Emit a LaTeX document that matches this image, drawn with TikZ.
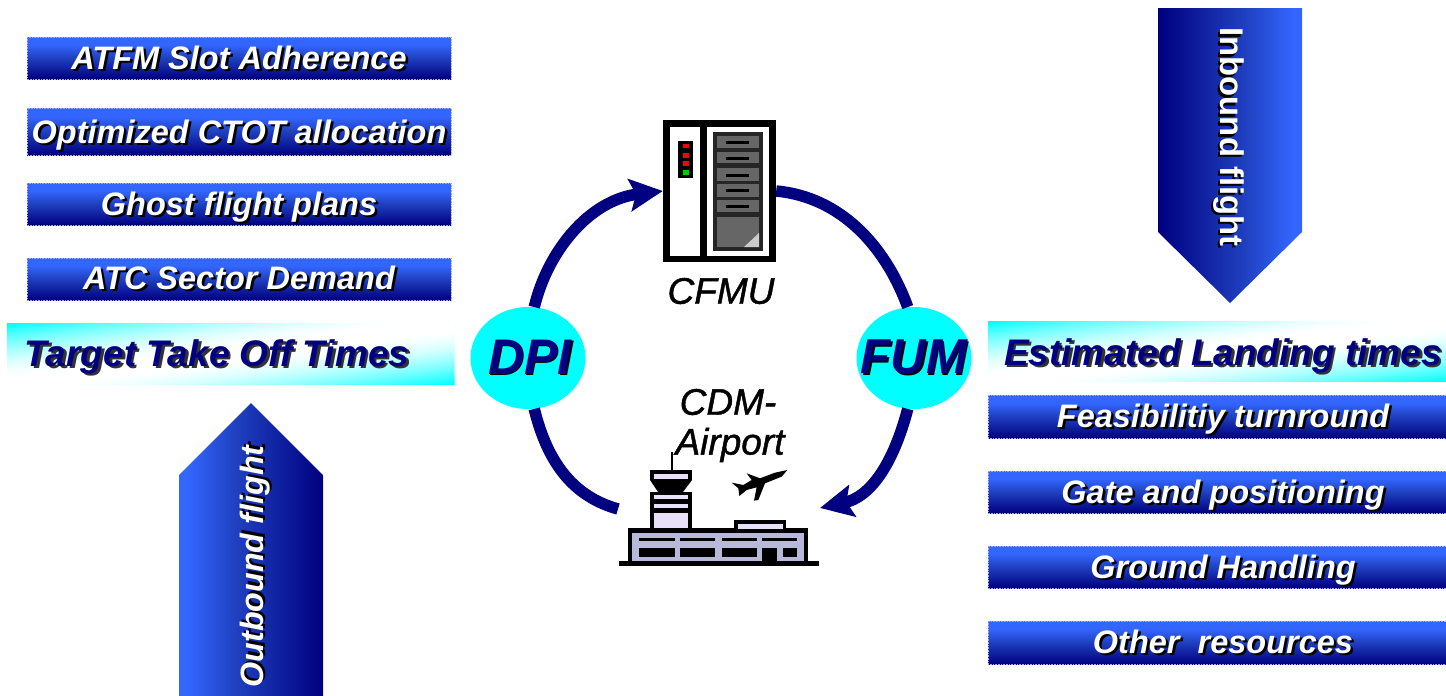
\documentclass[tikz,border=0pt]{standalone}
\usepackage{fontspec}
\setmainfont{Liberation Sans}
\usetikzlibrary{arrows.meta,shapes.geometric}
\definecolor{navyc}{HTML}{000080}
\definecolor{bluec}{HTML}{3366FF}
\definecolor{cyanc}{HTML}{00FFFF}
\definecolor{lilac}{HTML}{E8E0F8}
\definecolor{lilacd}{HTML}{B8B8D8}
\definecolor{drawer}{HTML}{666666}
\pgfdeclareverticalshading{barshade}{100bp}{rgb(0bp)=(0,0,.5); rgb(25bp)=(0,0,.5); rgb(50bp)=(.12,.25,.75); rgb(66bp)=(.2,.4,1); rgb(100bp)=(.2,.4,1)}
\pgfdeclarehorizontalshading{arrowin}{100bp}{rgb(0bp)=(0,0,.5); rgb(25bp)=(0,0,.5); rgb(55bp)=(.12,.25,.75); rgb(72bp)=(.2,.4,1); rgb(100bp)=(.2,.4,1)}
\pgfdeclarehorizontalshading{arrowout}{100bp}{rgb(0bp)=(.2,.4,1); rgb(28bp)=(.2,.4,1); rgb(45bp)=(.12,.25,.75); rgb(75bp)=(0,0,.5); rgb(100bp)=(0,0,.5)}
\newcommand{\shtext}[3]{\rlap{\hspace{2.5pt}\raisebox{-2.5pt}{\textcolor{#2}{#3}}}\textcolor{#1}{#3}}
\newcommand{\shtextb}[3]{\rlap{\hspace{1.5pt}\raisebox{-1.5pt}{\textcolor{#2}{#3}}}\textcolor{#1}{#3}}
% diagonal cyan-white-cyan fill, painted back to front
\newcommand{\bannerfill}[4]{%
  \begin{scope}
    \clip (#1,#2) rectangle (#3,#4);
    \fill[cyanc] (#1,#2) rectangle (#3,#4);
    \pgfmathsetmacro{\bw}{#3-#1}\pgfmathsetmacro{\bh}{#4-#2}
    \foreach \n in {1,...,80}{
      \pgfmathsetmacro{\u}{\n/80}
      \pgfmathsetmacro{\d}{max(0,(abs(\u-.5)-.05)/.45)}
      \pgfmathsetmacro{\p}{min(100,100*\d^1.6)}
      \fill[cyanc!\p!white] (#1+2*\u*\bw+.1*\bw,#2-.1*\bh) -- (#1+2*\u*\bw-1.1*\bw,#2+1.1*\bh) -- (#3+3*\bw,#4+\bh) -- (#3+3*\bw,#2-\bh) -- cycle;
    }
  \end{scope}}
\tikzset{
  x=1pt,y=-1pt,
  bartext/.style={font=\fontsize{#1}{#1}\selectfont\bfseries\itshape,inner sep=0pt},
  flow/.style={draw=navyc,line width=11.5pt},
  flowtip/.style={flow,-{Stealth[length=33pt,width=32pt,inset=6pt]}},
  bar/.style={shading=barshade,draw=white!65!blue,densely dotted,line width=.6pt},
  hub/.style={ellipse,fill=cyanc,inner sep=0pt,minimum width=115pt,minimum height=102pt},
  caption/.style={font=\fontsize{37}{40}\selectfont\itshape\addfontfeature{FakeBold=1.2},text=black,inner sep=0pt},
}
\begin{document}
\begin{tikzpicture}
\useasboundingbox (0,0) rectangle (1446,696);
% left bars
\path[bar] (27,37) rectangle (451,79);
\path[bar] (27,108) rectangle (451,155);
\path[bar] (27,183) rectangle (451,225);
\path[bar] (27,258) rectangle (451,300);
\node[bartext=32.5] (l1) at (239,59) {\shtext{white}{black}{ATFM Slot Adherence}};
\node[bartext=32.5] (l2) at (239,136) {\shtext{white}{black}{Optimized CTOT allocation}};
\node[bartext=32.5] (l3) at (239,208) {\shtext{white}{black}{Ghost flight plans}};
\node[bartext=32.5] (l4) at (239,279) {\shtext{white}{black}{ATC Sector Demand}};
\bannerfill{7}{323}{454}{384}
\node[bartext=37] (l5) at (217,358) {\shtext{navyc}{black!80}{Target Take Off Times}};
% right bars
\bannerfill{988}{321}{1446}{381}
\node[bartext=37] (r0) at (1223,357) {\shtext{navyc}{black!80}{Estimated Landing times}};
\path[bar] (988,395) rectangle (1446,438);
\path[bar] (988,471) rectangle (1446,513);
\path[bar] (988,546) rectangle (1446,588);
\path[bar] (988,621) rectangle (1446,664);
\node[bartext=32.5] (r1) at (1223,420) {\shtext{white}{black}{Feasibilitiy turnround}};
\node[bartext=32.5] (r2) at (1223,496) {\shtext{white}{black}{Gate and positioning}};
\node[bartext=32.5] (r3) at (1223,571) {\shtext{white}{black}{Ground Handling}};
\node[bartext=32.5] (r4) at (1223,643) {\shtext{white}{black}{Other\ \ resources}};
% big arrows
\path[shading=arrowin] (1158,8) -- (1302,8) -- (1302,232) -- (1230,303) -- (1158,232) -- cycle;
\node[bartext=32.8,font=\fontsize{32.8}{33}\selectfont\bfseries,rotate=-90] (inb) at (1228,137) {\shtext{white}{black}{Inbound flight}};
\path[shading=arrowout] (179,696) -- (179,475) -- (251,403) -- (323,475) -- (323,696) -- cycle;
\node[bartext=32.3,rotate=90] (outb) at (256,566.5) {\shtext{white}{black}{Outbound flight}};
% hubs and icon anchors
\node[hub] (dpi) at (528,358) {};
\node[hub] (fum) at (914,358) {};
\node[bartext=50] (dpit) at (530,358) {\shtextb{navyc}{black}{DPI}};
\node[bartext=49] (fumt) at (914,358) {\shtextb{navyc}{black}{FUM}};
\node[inner sep=0pt,minimum width=113pt,minimum height=142pt] (cfmu) at (719.5,191) {};
\coordinate (apl) at (618,509);
\coordinate (apr) at (820,508);
% connectors
\draw[flowtip] (dpi.83) .. controls (548,250) and (590,200) .. (cfmu.west);
\draw[flow] (dpi.277) .. controls (548,465) and (575,497) .. (apl);
\draw[flow] (cfmu.east) .. controls (840,197) and (885,245) .. (fum.97);
\draw[flowtip] (fum.263) .. controls (893,465) and (870,497) .. (apr);
% server icon
\fill[black] (663,120) rectangle (776,262);
\fill[white] (670,127) rectangle (700,256);
\fill[white] (707,127) rectangle (769,256);
\fill[black!85] (713,132) rectangle (763,251);
\foreach \a/\b/\c in {136/148/142,152/163/158,168/181/175,184/197/190,200/212/206}{
  \fill[drawer] (717,\a) rectangle (759,\b);
  \fill[black] (726,\c-1.5) rectangle (749,\c+1.5);
}
\fill[drawer] (717,217) rectangle (759,247);
\fill[black!20] (744,247) -- (759,247) -- (759,233) -- cycle;
\fill[black] (678,141) rectangle (693,178);
\fill[red] (683,144) rectangle (689,148);
\fill[red] (683,153) rectangle (689,158);
\fill[red] (683,161) rectangle (689,166);
\fill[green!80!black] (683,170) rectangle (689,175);
% airport icon
\fill[black] (619,561) rectangle (819,566);
\fill[black] (628,528) rectangle (808,562);
\fill[lilacd] (632,533) rectangle (804,561);
\foreach \a/\b in {639/675,680/715,722/757,762/797}{\fill[black] (\a,538) rectangle (\b,541);}
\foreach \a/\b in {639/675,680/715,722/757,783/797}{\fill[black] (\a,548) rectangle (\b,557);}
\fill[black] (762,548) rectangle (777,562);
\fill[black] (734,520) rectangle (786,530);
\fill[lilac] (738,524) rectangle (783,529);
\fill[black] (650,492) rectangle (692,530);
\fill[white] (654,495) rectangle (688,528);
\fill[lilac] (654,495) rectangle (688,499);
\fill[black] (654,499) rectangle (688,504);
\fill[lilac] (654,504) rectangle (688,508);
\fill[black] (654,508) rectangle (688,513);
\fill[lilac] (654,513) rectangle (688,528);
\fill[black] (650,470) rectangle (692,480);
\fill[lilac] (654,474) rectangle (688,479);
\fill[black] (650,480) -- (692,480) -- (683,492) -- (658,492) -- cycle;
\fill[black] (671,452) rectangle (673,470);
\begin{scope}[shift={(600,380)},scale=1/3]
\fill[black] (562,270) -- (525,278) -- (480,295) -- (440,280) -- (455,300) -- (430,315) -- (395,308) -- (415,325) -- (418,348) -- (440,330) -- (470,322) -- (462,362) -- (475,360) -- (495,310) -- (545,290) -- cycle;
\end{scope}
% captions
\node[caption] (cfmut) at (721,291) {CFMU};
\node[caption] (cdm) at (728,402) {CDM-};
\node[caption] (airp) at (730,445) {Airport};
\end{tikzpicture}
\end{document}
